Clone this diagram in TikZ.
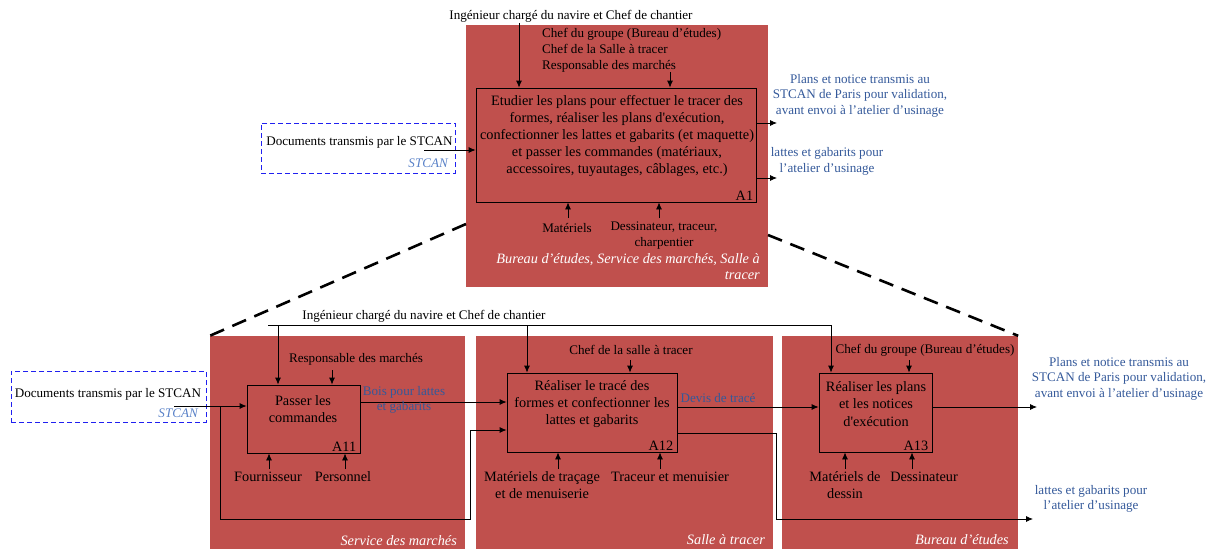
\documentclass[tikz,border=0pt]{standalone}
\usepackage{fontspec}
\setmainfont{Liberation Serif}[Ligatures=TeXOff]
\usetikzlibrary{arrows.meta,fit}
\definecolor{panelred}{HTML}{C0504D}
\definecolor{lblue}{HTML}{34599A}
\definecolor{sblue}{HTML}{5A82C8}
\definecolor{dblue}{HTML}{2020F0}
\tikzset{
  panel/.style={fill=panelred,draw=none,inner sep=0pt},
  proc/.style={draw=black,line width=0.8pt,inner sep=0pt},
  dbox/.style={draw=dblue,line width=0.8pt,inner sep=0pt,dash pattern=on 5pt off 3pt},
  lbl/.style={inner sep=0pt,align=center,font=\fontsize{13.1}{16}\selectfont},
  big/.style={inner sep=0pt,align=center,font=\fontsize{14.3}{17.2}\selectfont},
  blbl/.style={lbl,text=lblue,font=\fontsize{13.1}{15.6}\selectfont},
  plbl/.style={inner sep=0pt,text=white,font=\fontsize{14.3}{16.5}\selectfont\itshape},
  arr/.style={-{Latex[length=7pt,width=6pt]},line width=0.8pt},
  bigdash/.style={line width=2.6pt,dash pattern=on 15pt off 9pt}
}
\begin{document}
\begin{tikzpicture}[x=1pt,y=-1pt]
\useasboundingbox (0,0) rectangle (1214,551);
% ---------- panels
\node[panel,fit={(466,25) (768,287)}] (P0) {};
\node[panel,fit={(210,336) (465,549)}] (P1) {};
\node[panel,fit={(476,336) (773,549)}] (P2) {};
\node[panel,fit={(782,336) (1018,549)}] (P3) {};
% ---------- dashed zoom lines
\coordinate (dl) at (466,224);
\coordinate (dr) at (768,235);
\draw[bigdash] (dl) -- (P1.north west);
\draw[bigdash] (dr) -- (P3.north east);
% ---------- top level A1
\node[proc,fit={(476,88) (756,202)}] (A1) {};
\node[big] (A1t) at (617,136) {Etudier les plans pour effectuer le tracer des\\formes, réaliser les plans d'exécution,\\confectionner les lattes et gabarits (et maquette)\\et passer les commandes (matériaux,\\accessoires, tuyautages, câblages, etc.)};
\node[big,anchor=south east] (A1n) at ([shift={(-3,-2)}]A1.south east) {A1};
\node[lbl] (eng0) at (571,16) {Ingénieur chargé du navire et Chef de chantier};
\coordinate (e0) at (519,23);
\draw[arr] (e0) -- (e0 |- A1.north);
\node[lbl,align=left,anchor=west] (ctl0) at (542,50) {Chef du groupe (Bureau d’études)\\Chef de la Salle à tracer\\Responsable des marchés};
\coordinate (c0) at (670,72);
\draw[arr] (c0) -- (c0 |- A1.north);
\node[lbl] (m0a) at (567,228) {Matériels};
\node[lbl] (m0b) at (664,236) {Dessinateur, traceur,\\charpentier};
\coordinate (m0ap) at (568,218);
\coordinate (m0bp) at (659,218);
\draw[arr] (m0ap) -- (m0ap |- A1.south);
\draw[arr] (m0bp) -- (m0bp |- A1.south);
\node[plbl,align=right,anchor=north east] (P0l) at (760,253) {Bureau d’études, Service des marchés, Salle à\\tracer};
% outputs top
\coordinate (o0a) at (777,123);
\coordinate (o0b) at (777,178);
\draw[arr] (A1.east |- o0a) -- (o0a);
\draw[arr] (A1.east |- o0b) -- (o0b);
\node[blbl] (out0a) at (860,95.5) {Plans et notice transmis au\\STCAN de Paris pour validation,\\avant envoi à l’atelier d’usinage};
\node[blbl] (out0b) at (827,161.5) {lattes et gabarits pour\\l’atelier d’usinage};
% input top
\node[dbox,fit={(261,123) (455,173)}] (in0) {};
\node[lbl] (in0t) at (359.5,142) {Documents transmis par le STCAN};
\node[lbl,anchor=east,text=sblue,font=\fontsize{13.1}{16}\selectfont\itshape] (in0s) at (448,163) {STCAN};
\coordinate (i0) at (424,150);
\draw[arr] (i0) -- (i0 -| A1.west);
% ---------- bottom level
\node[proc,fit={(247,385) (360,453)}] (A11) {};
\node[proc,fit={(507,373) (677,452)}] (A12) {};
\node[proc,fit={(819,373) (932,452)}] (A13) {};
\node[big] (A11t) at (303,409.5) {Passer les\\commandes};
\node[big] (A12t) at (592,404) {Réaliser le tracé des\\formes et confectionner les\\lattes et gabarits};
\node[big] (A13t) at (876,404) {Réaliser les plans\\et les notices\\d'exécution};
\node[big,anchor=south east] (A11n) at ([shift={(-4,-2)}]A11.south east) {A11};
\node[big,anchor=south east] (A12n) at ([shift={(-4,-2)}]A12.south east) {A12};
\node[big,anchor=south east] (A13n) at ([shift={(-4,-2)}]A13.south east) {A13};
% common control
\node[lbl] (eng1) at (424,316) {Ingénieur chargé du navire et Chef de chantier};
\coordinate (k0) at (268,325);
\coordinate (k11) at (278,325);
\coordinate (k12) at (527,325);
\coordinate (k13) at (831,325);
\draw[arr] (k0) -- (k13) -- (k13 |- A13.north);
\draw[arr] (k11) -- (k11 |- A11.north);
\draw[arr] (k12) -- (k12 |- A12.north);
% specific controls
\node[lbl] (c11) at (356,359) {Responsable des marchés};
\node[lbl] (c12) at (631,350) {Chef de la salle à tracer};
\node[lbl] (c13) at (925,350) {Chef du groupe (Bureau d’études)};
\coordinate (c11p) at (332,370);
\coordinate (c12p) at (630,360);
\coordinate (c13p) at (909,360);
\draw[arr] (c11p) -- (c11p |- A11.north);
\draw[arr] (c12p) -- (c12p |- A12.north);
\draw[arr] (c13p) -- (c13p |- A13.north);
% mechanisms
\node[big] (m11a) at (268,477) {Fournisseur};
\node[big] (m11b) at (343,477) {Personnel};
\node[big] (m12a) at (542,485) {Matériels de traçage\\et de menuiserie};
\node[big] (m12b) at (670,477) {Traceur et menuisier};
\node[big] (m13a) at (845,485) {Matériels de\\dessin};
\node[big] (m13b) at (924,477) {Dessinateur};
\foreach \x/\b/\n in {269/A11/1,345/A11/2,558/A12/3,660/A12/4,845/A13/5,912/A13/6}{
  \coordinate (mp\n) at (\x,469);
  \draw[arr] (mp\n) -- (mp\n |- \b.south);
}
% input bottom
\node[dbox,fit={(11,371) (206,422)}] (in1) {};
\node[lbl] (in1t) at (108,394) {Documents transmis par le STCAN};
\node[lbl,anchor=east,text=sblue,font=\fontsize{13.1}{16}\selectfont\itshape] (in1s) at (198,413) {STCAN};
\coordinate (i1) at (174,406);
\draw[arr] (i1) -- (i1 -| A11.west);
\coordinate (b1) at (220,406);
\coordinate (b2) at (220,519);
\coordinate (b3) at (470,519);
\coordinate (b4) at (470,430);
\draw[arr] (b1) -- (b2) -- (b3) -- (b4) -- (b4 -| A12.west);
% A11 -> A12
\coordinate (y402) at (0,402);
\draw[arr] (A11.east |- y402) -- (A12.west |- y402);
\node[blbl] (bois) at (404,400) {Bois pour lattes\\et gabarits};
% A12 -> A13
\coordinate (y407) at (0,407);
\draw[arr] (A12.east |- y407) -- (A13.west |- y407);
\node[blbl] (devis) at (718,398) {Devis de tracé};
% A12 -> lattes
\coordinate (y433) at (0,433);
\coordinate (r1) at (776,433);
\coordinate (r2) at (776,519);
\coordinate (r3) at (1033,519);
\draw[arr] (A12.east |- y433) -- (r1) -- (r2) -- (r3);
\node[blbl] (out1b) at (1091,499) {lattes et gabarits pour\\l’atelier d’usinage};
% A13 -> plans
\coordinate (r4) at (1037,407);
\draw[arr] (A13.east |- y407) -- (r4);
\node[blbl] (out1a) at (1119,378.5) {Plans et notice transmis au\\STCAN de Paris pour validation,\\avant envoi à l’atelier d’usinage};
% panel labels
\node[plbl,anchor=east] (P1l) at (457,541) {Service des marchés};
\node[plbl,anchor=east] (P2l) at (765,540) {Salle à tracer};
\node[plbl,anchor=east] (P3l) at (1009,540) {Bureau d’études};
\end{tikzpicture}
\end{document}
